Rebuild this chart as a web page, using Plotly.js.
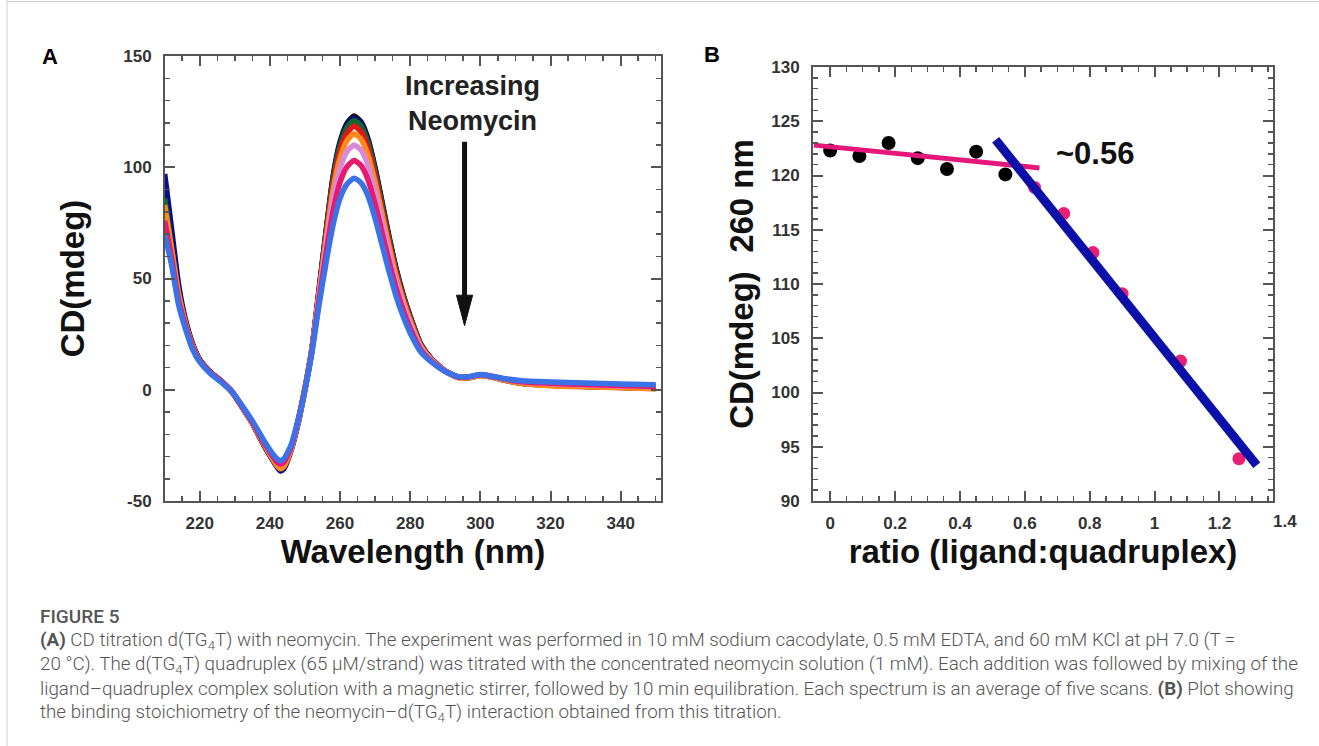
<!DOCTYPE html>
<html>
<head>
<meta charset="utf-8">
<script src="https://cdn.plot.ly/plotly-3.0.1.min.js"></script>
<style>
html,body{margin:0;padding:0;background:#fff;}
#chart{width:1319px;height:746px;}
</style>
</head>
<body>
<div id="chart"></div>
<script>
// ---------- Panel A data: CD spectra (wavelength in nm, CD in mdeg) ----------
const wavelength = [210,212,214,216,218,220,223,226,229,232,235,238,240,242,243,244,246,248,250,
  252,254,256,258,260,262,264,266,268,270,272,274,276,278,280,283,286,290,
  294,297,300,303,307,312,320,330,340,350];

const cdBlack = [88,66,44,30,20,13.5,8,4,-0.5,-7.5,-15,-24,-29.5,-34.5,-36,-35,-27,-15,0.5,
  18.5,44.7,71,95.8,111.4,119.8,123,120.4,112.7,99.7,84.2,68.6,54.4,42.7,33,20.5,14,8.4,
  5.5,5.5,6.5,5.8,4.2,2.8,2,1.5,1,0.6];
const cdNavy = [97,72,47,31,20.5,13.5,8,4,-0.5,-7.5,-15,-24,-29.5,-34.5,-36.5,-35.5,-27.5,-15.5,0,
  18.4,44.5,70.8,95,110.4,118.8,122,119.4,111.7,98.9,83.5,68,53.9,42.4,32.7,20.4,13.9,8.4,
  5.6,5.6,6.6,6,4.5,3,2.2,1.6,1.2,0.8];
const cdGreen = [86,64,43,29.5,20,13.5,8,4,-0.5,-7.5,-15,-23.5,-29,-34,-35,-34,-26.5,-14.5,0.5,
  18.4,43.8,70.3,94.3,109.5,117.8,121,118.5,110.8,98.1,82.8,67.5,53.5,42,32.5,20.3,13.9,8.4,
  5.4,5.5,6.4,5.8,4.3,2.9,2,1.5,1.1,0.7];
const cdRed = [80,62,42,29,19.5,13,7.8,4,-0.5,-7.5,-15,-23.5,-28.5,-33,-34.5,-33.5,-26.5,-14.5,0.5,
  18.3,43.6,69,92.3,107.3,115.4,118.5,116,108.5,96,81,66.1,52.4,41.2,31.8,19.9,13.7,8.4,
  5.5,5.6,6.5,5.9,4.4,3,2.1,1.6,1.1,0.7];
const cdOrange = [83,63,43,29.5,19.5,13,7.8,4,-0.5,-7.5,-15,-23.5,-29,-34,-35.5,-34.5,-27,-14.5,0.5,
  18.1,42.8,67.2,89.6,104.1,112,115,112.6,105.3,93.2,78.7,64.2,50.8,40,30.9,19.5,13.5,8.4,
  5.3,5.4,6.3,5.7,4.2,2.8,1.8,1.3,0.9,0.5];
const cdOrchid = [72,57,39,28,18.5,12.8,7.5,3.8,-0.5,-7,-14.5,-22.5,-28,-32.5,-33.5,-32.5,-26,-14.5,0,
  17.8,41.6,64.7,85.7,99.6,107.1,110,107.7,100.7,89.2,75.3,61.4,48.6,38.2,29.5,18.9,13.3,8.3,
  5.6,5.8,6.6,6,4.7,3.5,2.8,2.2,1.8,1.4];
const cdCrimson = [76,59,40,28.5,19,13,7.8,4,-0.5,-7.5,-14.5,-23,-28,-32.5,-33.5,-32.5,-26,-14,0.5,
  17.4,39.9,61.1,80.2,93.2,100.3,103,100.8,94.3,83.5,70.5,57.5,45.5,35.8,27.6,18,12.9,8.3,
  5.6,5.9,6.7,6.1,4.8,3.6,2.9,2.4,1.9,1.5];
const cdBlue = [70,56,38,27,18,12.5,7.3,3.6,-0.5,-7,-14,-22,-27,-31,-32,-31,-25,-14,0,
  17,38,57,74,86,92.5,95,93,87,77,65,53,42,33,25.5,17,12.5,8.2,
  5.8,6,6.8,6.2,5,4,3.5,3,2.6,2.2];

const yTickValsA = [-50, 0, 50, 100, 150];
const yTickTextA = ['-50', '0', '50', '100', '150'];

// ---------- Panel B data: CD at 260 nm vs ratio ----------
const ratioBefore = [0, 0.09, 0.18, 0.27, 0.36, 0.45, 0.54];
const cdBefore = [122.3, 121.8, 123.0, 121.6, 120.6, 122.2, 120.1];
const ratioAfter = [0.63, 0.72, 0.81, 0.90, 1.08, 1.26];
const cdAfter = [118.9, 116.5, 112.9, 109.1, 102.9, 93.9];
const fitFlatX = [-0.05, 0.645];
const fitFlatY = [122.8, 120.7];
const fitSteepX = [0.51, 1.315];
const fitSteepY = [123.3, 93.3];
const breakLabel = '~0.56';
const breakLabelX = 0.817;
const breakLabelY = 122.0;

// ---------- helpers ----------
const W = 1319, H = 746;
const px = x => x / W;
const py = y => 1 - y / H;
const FONT = 'Liberation Sans, Arial, sans-serif';
const CAP = 'Roboto, Lato, sans-serif';

const specLine = (y, color, name) => ({
  type: 'scatter', mode: 'lines', x: wavelength, y: y, name: name,
  xaxis: 'x', yaxis: 'y',
  line: {color: color, width: 5.5, shape: 'spline', smoothing: 0.6},
  hoverinfo: 'skip'
});

const traces = [
  specLine(cdBlack, '#141414', 'titration 1'),
  specLine(cdNavy, '#0b0b8e', 'titration 2'),
  specLine(cdGreen, '#0d6b2c', 'titration 3'),
  specLine(cdRed, '#e0161b', 'titration 4'),
  specLine(cdOrange, '#ff8a1c', 'titration 5'),
  specLine(cdOrchid, '#d98ad6', 'titration 6'),
  specLine(cdCrimson, '#e8196e', 'titration 7'),
  specLine(cdBlue, '#3b72e8', 'titration 8'),
  {type: 'scatter', mode: 'markers', x: ratioAfter, y: cdAfter, xaxis: 'x2', yaxis: 'y2',
   marker: {color: '#ea1f74', size: 13}, hoverinfo: 'skip', name: 'after'},
  {type: 'scatter', mode: 'markers', x: ratioBefore, y: cdBefore, xaxis: 'x2', yaxis: 'y2',
   marker: {color: '#000', size: 14}, hoverinfo: 'skip', name: 'before'},
  {type: 'scatter', mode: 'lines', x: fitFlatX, y: fitFlatY, xaxis: 'x2', yaxis: 'y2',
   line: {color: '#e6177a', width: 5}, hoverinfo: 'skip', name: 'fit 1'},
  {type: 'scatter', mode: 'lines', x: fitSteepX, y: fitSteepY, xaxis: 'x2', yaxis: 'y2',
   line: {color: '#0d10a8', width: 9}, hoverinfo: 'skip', name: 'fit 2'}
];

const axisBase = {
  showline: true, linecolor: '#555', linewidth: 2, mirror: 'ticks',
  ticks: 'inside', ticklen: 10, tickwidth: 2, tickcolor: '#555',
  showgrid: false, zeroline: false,
  tickfont: {family: FONT, size: 17, weight: 'bold', color: '#333'},
  minor: {ticks: 'inside', ticklen: 5, tickwidth: 1.5, tickcolor: '#555', showgrid: false}
};
const titleFont = {family: FONT, size: 33, weight: 'bold', color: '#111'};
const capFont = {family: CAP, size: 18.8, weight: 300, color: '#555'};

const ann = (x, y, text, font, extra) => Object.assign({
  xref: 'paper', yref: 'paper', x: px(x), y: py(y), text: text, showarrow: false,
  xanchor: 'center', yanchor: 'middle', font: font
}, extra || {});

const layout = {
  width: W, height: H, margin: {l: 0, r: 0, t: 0, b: 0},
  paper_bgcolor: '#fff', plot_bgcolor: '#fff', showlegend: false,
  xaxis: Object.assign({}, axisBase, {
    domain: [px(165), px(661)], range: [210.1, 351.5], anchor: 'y',
    dtick: 20, tick0: 0, ticklabelstandoff: 6,
    minor: Object.assign({}, axisBase.minor, {dtick: 5}),
    title: {text: 'Wavelength (nm)', font: titleFont, standoff: 6}
  }),
  yaxis: Object.assign({}, axisBase, {
    domain: [py(501), py(56)], range: [-50, 150], anchor: 'x',
    tickmode: 'array', tickvals: yTickValsA, ticktext: yTickTextA, ticklabelstandoff: 8,
    minor: Object.assign({}, axisBase.minor, {dtick: 10, tick0: 0}),
    title: {text: 'CD(mdeg)', font: titleFont, standoff: 29}
  }),
  xaxis2: Object.assign({}, axisBase, {
    domain: [px(813), px(1273)], range: [-0.053, 1.365], anchor: 'y2',
    dtick: 0.2, tick0: 0, ticklabelstandoff: 6,
    minor: Object.assign({}, axisBase.minor, {dtick: 0.05}),
    title: {text: 'ratio (ligand:quadruplex)', font: titleFont, standoff: 6}
  }),
  yaxis2: Object.assign({}, axisBase, {
    domain: [py(501), py(67)], range: [90, 130], anchor: 'x2',
    dtick: 5, ticklabelstandoff: 8,
    minor: Object.assign({}, axisBase.minor, {dtick: 1}),
    title: {text: 'CD(mdeg)  260 nm', font: titleFont, standoff: 8}
  }),
  shapes: [
    {type: 'line', xref: 'paper', yref: 'paper', x0: px(7), x1: px(7), y0: 0, y1: 1,
     line: {color: '#d0d0d0', width: 1}},
    {type: 'line', xref: 'paper', yref: 'paper', x0: px(7), x1: 1, y0: py(1.5), y1: py(1.5),
     line: {color: '#d0d0d0', width: 1}},
    // "Increasing Neomycin" arrow (shaft + head), in panel A data units
    {type: 'line', xref: 'x', yref: 'y', x0: 295.5, x1: 295.5, y0: 111.5, y1: 42,
     line: {color: '#111', width: 5}},
    {type: 'path', xref: 'x', yref: 'y', path: 'M 293.2 42.5 L 297.8 42.5 L 295.5 28.8 Z',
     fillcolor: '#111', line: {color: '#111', width: 1}}
  ],
  annotations: [
    ann(50, 56, '<b>A</b>', {family: FONT, size: 22, color: '#000'}),
    ann(712, 55, '<b>B</b>', {family: FONT, size: 22, color: '#000'}),
    {xref: 'x', yref: 'y', x: 297.9, y: 128.5, text: 'Increasing<br>Neomycin', showarrow: false,
     xanchor: 'center', yanchor: 'middle',
     font: {family: FONT, size: 27, weight: 'bold', color: '#222'}, align: 'center'},
    {xref: 'x2', yref: 'y2', x: breakLabelX, y: breakLabelY, text: breakLabel, showarrow: false,
     xanchor: 'center', yanchor: 'middle',
     font: {family: FONT, size: 31, weight: 'bold', color: '#111'}},
    ann(1285, 521, '1.4', {family: FONT, size: 17, weight: 'bold', color: '#333'}),
    ann(38, 616, 'FIGURE 5', {family: CAP, size: 19, weight: 500, color: '#555'}, {xanchor: 'left'}),
    ann(38, 641, '<b>(A)</b> CD titration d(TG<sub>4</sub>T) with neomycin. The experiment was performed in 10 mM sodium cacodylate, 0.5 mM EDTA, and 60 mM KCl at pH 7.0 (T =',
        capFont, {xanchor: 'left'}),
    ann(38, 665, '20 °C). The d(TG<sub>4</sub>T) quadruplex (65 μM/strand) was titrated with the concentrated neomycin solution (1 mM). Each addition was followed by mixing of the',
        capFont, {xanchor: 'left'}),
    ann(38, 689, 'ligand–quadruplex complex solution with a magnetic stirrer, followed by 10 min equilibration. Each spectrum is an average of five scans. <b>(B)</b> Plot showing',
        capFont, {xanchor: 'left'}),
    ann(38, 713, 'the binding stoichiometry of the neomycin–d(TG<sub>4</sub>T) interaction obtained from this titration.',
        capFont, {xanchor: 'left'})
  ]
};

Plotly.newPlot('chart', traces, layout, {staticPlot: true, displayModeBar: false});
</script>
</body>
</html>
